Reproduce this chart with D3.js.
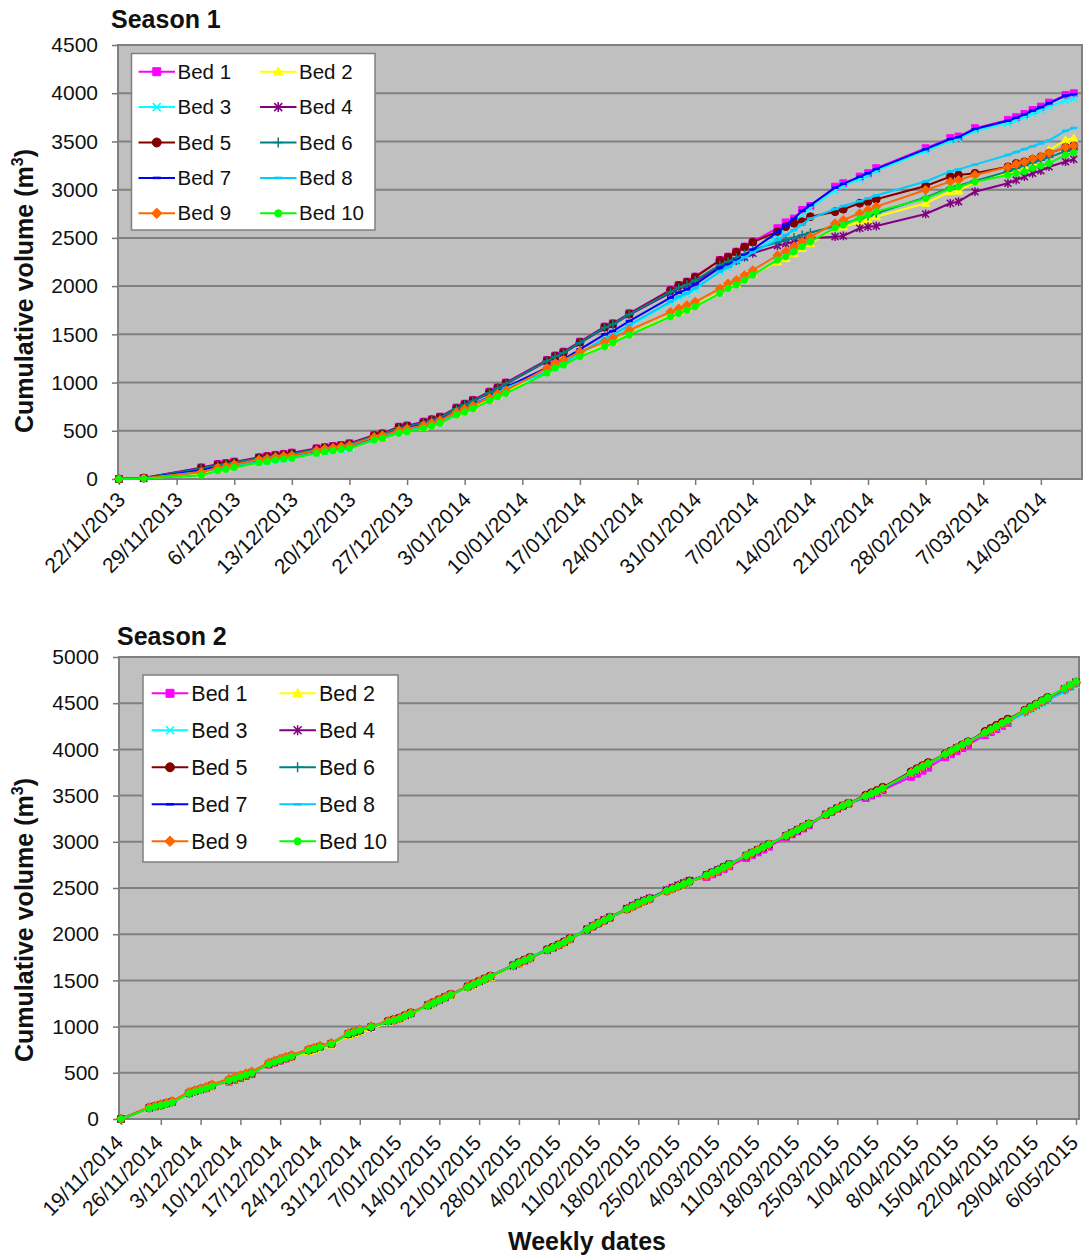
<!DOCTYPE html>
<html>
<head>
<meta charset="utf-8">
<script src="https://cdn.jsdelivr.net/npm/d3@7"></script>
<style>
  body { margin: 0; background: #ffffff; }
  svg text { font-family: "Liberation Sans", Arial, Helvetica, sans-serif; fill: #111; }
</style>
</head>
<body>
<svg id="chart" width="1084" height="1256"></svg>
<script>
// ---------- series definitions ----------
const bedNames   = ["Bed 1","Bed 2","Bed 3","Bed 4","Bed 5","Bed 6","Bed 7","Bed 8","Bed 9","Bed 10"];
const bedColors  = ["#FF00FF","#FFFF00","#00FFFF","#800080","#800000","#008080","#0000FF","#00CCFF","#FF6600","#00FF00"];
const bedMarkers = ["square","triangle","cross","star","circle","plus","dash","dash","diamond","dot"];

// ---------- Season 1 (cumulative volume, m3) ----------
const season1Dates = [
  "22/11/2013","25/11/2013","2/12/2013","4/12/2013","5/12/2013","6/12/2013",
  "9/12/2013","10/12/2013","11/12/2013","12/12/2013","13/12/2013",
  "16/12/2013","17/12/2013","18/12/2013","19/12/2013","20/12/2013",
  "23/12/2013","24/12/2013","26/12/2013","27/12/2013",
  "29/12/2013","30/12/2013","31/12/2013","2/1/2014","3/1/2014","4/1/2014",
  "6/1/2014","7/1/2014","8/1/2014","13/1/2014","14/1/2014","15/1/2014",
  "17/1/2014","20/1/2014","21/1/2014","23/1/2014",
  "28/1/2014","29/1/2014","30/1/2014","31/1/2014",
  "3/2/2014","4/2/2014","5/2/2014","6/2/2014","7/2/2014",
  "10/2/2014","11/2/2014","12/2/2014","13/2/2014","14/2/2014",
  "17/2/2014","18/2/2014","20/2/2014","21/2/2014","22/2/2014",
  "28/2/2014","3/3/2014","4/3/2014","6/3/2014",
  "10/3/2014","11/3/2014","12/3/2014","13/3/2014","14/3/2014","15/3/2014",
  "17/3/2014","18/3/2014"
];
const s1Bed1 = [0,10,120,155,165,180,225,238,250,260,273,318,330,342,352,370,456,474,542,555,594,619,646,740,780,820,905,950,1000,1234,1280,1320,1424,1580,1614,1718,1960,2012,2046,2098,2271,2305,2357,2409,2461,
  2600,2660,2700,2790,2830,3031,3066,3135,3170,3222,3429,3533,3550,3637,3723,3751,3785,3826,3861,3902,3982,3999];
const s1Bed2 = [0,5,50,96,110,130,180,190,207,217,225,276,293,303,318,328,414,432,484,500,536,560,588,674,705,740,820,863,898,1109,1161,1192,1278,1382,1423,1503,1693,1728,1762,1797,1935,1987,2022,2073,2125,
  2250,2285,2335,2390,2440,2603,2616,2668,2686,2720,2859,2979,2985,3083,3170,3204,3238,3290,3342,3411,3515,3533];
const s1Bed3 = [0,5,70,105,115,130,175,188,200,210,223,268,280,292,302,320,406,424,492,505,544,569,596,680,720,760,845,890,940,1104,1150,1190,1294,1450,1484,1588,1830,1882,1916,1968,2150,2190,2240,2290,2340,
  2520,2590,2660,2740,2810,2990,3040,3110,3150,3195,3400,3505,3525,3610,3690,3720,3755,3790,3825,3860,3925,3945];
const s1Bed4 = [0,8,105,140,150,165,210,223,235,245,258,303,315,327,337,355,441,459,527,540,579,604,631,725,765,805,890,935,985,1219,1265,1305,1409,1565,1599,1703,1930,1980,2010,2050,2200,2230,2265,2300,2340,
  2420,2440,2460,2480,2495,2513,2520,2600,2616,2623,2748,2859,2876,2979,3066,3100,3135,3170,3197,3238,3290,3315];
const s1Bed5 = [0,10,115,150,160,175,220,233,245,255,268,313,325,337,347,365,451,469,537,550,589,614,641,735,775,815,900,945,995,1229,1275,1315,1419,1575,1609,1713,1955,2007,2041,2093,2266,2300,2352,2404,2456,
  2565,2616,2651,2668,2720,2772,2797,2859,2876,2900,3038,3135,3152,3170,3238,3273,3290,3315,3342,3377,3439,3453];
const s1Bed6 = [0,10,110,145,155,170,215,228,240,250,263,308,320,332,342,360,446,464,532,545,584,609,636,730,770,810,895,940,990,1224,1270,1310,1414,1570,1604,1708,1940,1985,2015,2060,2220,2255,2295,2335,2375,
  2455,2480,2505,2530,2555,2620,2645,2700,2725,2755,2920,3020,3040,3090,3190,3220,3250,3280,3305,3335,3400,3415];
const s1Bed7 = [0,8,90,125,135,150,195,208,220,230,243,288,300,312,322,340,426,444,512,525,564,589,616,690,730,770,855,900,950,1154,1200,1240,1344,1500,1534,1638,1880,1932,1966,2018,2190,2225,2270,2320,2380,
  2560,2630,2700,2780,2840,3020,3060,3135,3170,3215,3420,3525,3545,3630,3715,3745,3780,3820,3855,3895,3975,3990];
const s1Bed8 = [0,5,75,110,120,135,180,193,205,215,228,273,285,297,307,325,411,429,497,510,549,574,601,685,725,765,850,895,945,1114,1160,1200,1304,1460,1494,1598,1840,1892,1926,1978,2150,2200,2250,2300,2350,
  2480,2530,2580,2640,2700,2800,2830,2880,2910,2940,3085,3190,3210,3260,3360,3390,3420,3450,3480,3510,3610,3640];
const s1Bed9 = [0,8,70,116,130,150,200,210,227,237,245,296,313,323,338,348,434,452,504,520,556,580,608,694,725,760,840,883,918,1149,1201,1232,1318,1422,1463,1543,1733,1768,1802,1837,1975,2027,2062,2113,2165,
  2320,2360,2410,2460,2510,2651,2686,2755,2790,2824,2997,3083,3100,3152,3235,3265,3290,3320,3345,3380,3440,3455];
const s1Bed10 = [0,5,40,86,100,120,170,180,197,207,215,266,283,293,308,318,404,422,474,490,526,550,578,664,695,730,810,853,888,1099,1151,1182,1268,1372,1413,1493,1683,1718,1752,1787,1925,1977,2012,2063,2115,
  2271,2305,2357,2409,2461,2603,2634,2703,2737,2772,2910,3014,3031,3083,3152,3170,3187,3222,3246,3273,3360,3384];

const season1TickLabels = ["22/11/2013","29/11/2013","6/12/2013","13/12/2013","20/12/2013","27/12/2013",
  "3/01/2014","10/01/2014","17/01/2014","24/01/2014","31/01/2014","7/02/2014","14/02/2014",
  "21/02/2014","28/02/2014","7/03/2014","14/03/2014"];
const season1YTicks = [0,500,1000,1500,2000,2500,3000,3500,4000,4500];

// ---------- Season 2 (cumulative volume, m3) ----------
const season2Dates = [
  "19/11/2014",
  "24/11/2014","25/11/2014","26/11/2014","27/11/2014","28/11/2014",
  "1/12/2014","2/12/2014","3/12/2014","4/12/2014","5/12/2014",
  "8/12/2014","9/12/2014","10/12/2014","11/12/2014","12/12/2014",
  "15/12/2014","16/12/2014","17/12/2014","18/12/2014","19/12/2014",
  "22/12/2014","23/12/2014","24/12/2014","26/12/2014",
  "29/12/2014","30/12/2014","31/12/2014","2/1/2015",
  "5/1/2015","6/1/2015","7/1/2015","8/1/2015","9/1/2015",
  "12/1/2015","13/1/2015","14/1/2015","15/1/2015","16/1/2015",
  "19/1/2015","20/1/2015","21/1/2015","22/1/2015","23/1/2015",
  "27/1/2015","28/1/2015","29/1/2015","30/1/2015",
  "2/2/2015","3/2/2015","4/2/2015","5/2/2015","6/2/2015",
  "9/2/2015","10/2/2015","11/2/2015","12/2/2015","13/2/2015",
  "16/2/2015","17/2/2015","18/2/2015","19/2/2015","20/2/2015",
  "23/2/2015","24/2/2015","25/2/2015","26/2/2015","27/2/2015",
  "2/3/2015","3/3/2015","4/3/2015","5/3/2015","6/3/2015",
  "9/3/2015","10/3/2015","11/3/2015","12/3/2015","13/3/2015",
  "16/3/2015","17/3/2015","18/3/2015","19/3/2015","20/3/2015",
  "23/3/2015","24/3/2015","25/3/2015","26/3/2015","27/3/2015",
  "30/3/2015","31/3/2015","1/4/2015","2/4/2015",
  "7/4/2015","8/4/2015","9/4/2015","10/4/2015",
  "13/4/2015","14/4/2015","15/4/2015","16/4/2015","17/4/2015",
  "20/4/2015","21/4/2015","22/4/2015","23/4/2015","24/4/2015",
  "27/4/2015","28/4/2015","29/4/2015","30/4/2015","1/5/2015",
  "4/5/2015","5/5/2015","6/5/2015"
];
const s2Bed1 = [0,
  120,135,150,167,184, 275,294,313,331,355, 405,425,445,466,485, 586,608,630,650,670,
  740,758,777,810, 910,930,950,985, 1050,1067,1085,1113,1140, 1230,1258,1288,1316,1345,
  1430,1458,1486,1515,1543, 1655,1685,1713,1740, 1830,1856,1883,1915,1950, 2050,2085,2118,2150,2180,
  2272,2303,2334,2360,2385, 2473,2499,2525,2550,2575, 2620,2648,2675,2705,2736, 2825,2855,2886,2917,2948,
  3050,3081,3113,3145,3179, 3295,3328,3362,3390,3416, 3475,3501,3527,3560, 3704,3737,3770,3803,
  3915,3948,3982,4015,4048, 4155,4188,4221,4255,4288, 4414,4448,4481,4517,4553, 4650,4687,4723];
const s2Bed2 = [0,
  115,130,145,162,179, 270,289,308,326,350, 410,430,450,471,490, 586,608,630,650,670,
  730,748,767,800, 905,925,945,980, 1045,1062,1080,1108,1135, 1225,1253,1283,1311,1340,
  1420,1448,1476,1505,1533, 1655,1685,1713,1740, 1830,1856,1883,1915,1950, 2050,2085,2118,2150,2180,
  2272,2303,2334,2360,2385, 2468,2494,2520,2545,2570, 2645,2673,2700,2730,2761, 2850,2880,2911,2942,2973,
  3065,3096,3128,3160,3194, 3295,3328,3362,3390,3416, 3490,3516,3542,3575, 3744,3777,3810,3843,
  3945,3978,4012,4045,4078, 4180,4213,4246,4280,4313, 4414,4448,4481,4517,4553, 4655,4692,4728];
const s2Bed3 = [0,
  120,135,150,167,184, 280,299,318,336,360, 420,440,460,481,500, 596,618,640,660,680,
  745,763,782,815, 925,945,965,1000, 1060,1077,1095,1123,1150, 1230,1258,1288,1316,1345,
  1435,1463,1491,1520,1548, 1670,1700,1728,1755, 1835,1861,1888,1920,1955, 2050,2085,2118,2150,2180,
  2272,2303,2334,2360,2385, 2468,2494,2520,2545,2570, 2640,2668,2695,2725,2756, 2850,2880,2911,2942,2973,
  3065,3096,3128,3160,3194, 3300,3333,3367,3395,3421, 3490,3516,3542,3575, 3744,3777,3810,3843,
  3945,3978,4012,4045,4078, 4170,4203,4236,4270,4303, 4394,4428,4461,4497,4533, 4630,4667,4703];
const s2Bed4 = [0,
  120,135,150,167,184, 280,299,318,336,360, 415,435,455,476,495, 596,618,640,660,680,
  745,763,782,815, 920,940,960,995, 1055,1072,1090,1118,1145, 1230,1258,1288,1316,1345,
  1430,1458,1486,1515,1543, 1660,1690,1718,1745, 1830,1856,1883,1915,1950, 2055,2090,2123,2155,2185,
  2277,2308,2339,2365,2390, 2478,2504,2530,2555,2580, 2640,2668,2695,2725,2756, 2850,2880,2911,2942,2973,
  3065,3096,3128,3160,3194, 3295,3328,3362,3390,3416, 3490,3516,3542,3575, 3744,3777,3810,3843,
  3945,3978,4012,4045,4078, 4180,4213,4246,4280,4313, 4414,4448,4481,4517,4553, 4655,4692,4728];
const s2Bed5 = [0,
  125,140,155,172,189, 285,304,323,341,365, 420,440,460,481,500, 596,618,640,660,680,
  745,763,782,815, 920,940,960,995, 1060,1077,1095,1123,1150, 1235,1263,1293,1321,1350,
  1435,1463,1491,1520,1548, 1665,1695,1723,1750, 1835,1861,1888,1920,1955, 2050,2085,2118,2150,2180,
  2272,2303,2334,2360,2385, 2468,2494,2520,2545,2570, 2640,2668,2695,2725,2756, 2850,2880,2911,2942,2973,
  3065,3096,3128,3160,3194, 3295,3328,3362,3390,3416, 3505,3531,3557,3590, 3759,3792,3825,3858,
  3950,3983,4017,4050,4083, 4195,4228,4261,4295,4328, 4424,4458,4491,4527,4563, 4650,4687,4723];
const s2Bed6 = [0,
  120,135,150,167,184, 280,299,318,336,360, 420,440,460,481,500, 596,618,640,660,680,
  745,763,782,815, 920,940,960,995, 1055,1072,1090,1118,1145, 1230,1258,1288,1316,1345,
  1430,1458,1486,1515,1543, 1660,1690,1718,1745, 1830,1856,1883,1915,1950, 2050,2085,2118,2150,2180,
  2267,2298,2329,2355,2380, 2468,2494,2520,2545,2570, 2640,2668,2695,2725,2756, 2850,2880,2911,2942,2973,
  3065,3096,3128,3160,3194, 3295,3328,3362,3390,3416, 3490,3516,3542,3575, 3744,3777,3810,3843,
  3945,3978,4012,4045,4078, 4175,4208,4241,4275,4308, 4404,4438,4471,4507,4543, 4645,4682,4718];
const s2Bed7 = [0,
  120,135,150,167,184, 280,299,318,336,360, 420,440,460,481,500, 596,618,640,660,680,
  745,763,782,815, 920,940,960,995, 1055,1072,1090,1118,1145, 1230,1258,1288,1316,1345,
  1430,1458,1486,1515,1543, 1660,1690,1718,1745, 1830,1856,1883,1915,1950, 2050,2085,2118,2150,2180,
  2272,2303,2334,2360,2385, 2468,2494,2520,2545,2570, 2640,2668,2695,2725,2756, 2850,2880,2911,2942,2973,
  3065,3096,3128,3160,3194, 3295,3328,3362,3390,3416, 3490,3516,3542,3575, 3744,3777,3810,3843,
  3945,3978,4012,4045,4078, 4175,4208,4241,4275,4308, 4404,4438,4471,4507,4543, 4635,4672,4708];
const s2Bed8 = [0,
  120,135,150,167,184, 280,299,318,336,360, 420,440,460,481,500, 596,618,640,660,680,
  745,763,782,815, 920,940,960,995, 1060,1077,1095,1123,1150, 1235,1263,1293,1321,1350,
  1435,1463,1491,1520,1548, 1670,1700,1728,1755, 1835,1861,1888,1920,1955, 2055,2090,2123,2155,2185,
  2272,2303,2334,2360,2385, 2468,2494,2520,2545,2570, 2640,2668,2695,2725,2756, 2850,2880,2911,2942,2973,
  3065,3096,3128,3160,3194, 3295,3328,3362,3390,3416, 3490,3516,3542,3575, 3744,3777,3810,3843,
  3940,3973,4007,4040,4073, 4170,4203,4236,4270,4303, 4394,4428,4461,4497,4533, 4625,4662,4698];
const s2Bed9 = [0,
  130,145,160,177,194, 295,314,333,351,375, 435,455,475,496,515, 611,633,655,675,695,
  755,773,792,825, 930,950,970,1005, 1060,1077,1095,1123,1150, 1235,1263,1293,1321,1350,
  1435,1463,1491,1520,1548, 1660,1690,1718,1745, 1830,1856,1883,1915,1950, 2050,2085,2118,2150,2180,
  2267,2298,2329,2355,2380, 2463,2489,2515,2540,2565, 2630,2658,2685,2715,2746, 2850,2880,2911,2942,2973,
  3065,3096,3128,3160,3194, 3295,3328,3362,3390,3416, 3495,3521,3547,3580, 3749,3782,3815,3848,
  3945,3978,4012,4045,4078, 4180,4213,4246,4280,4313, 4414,4448,4481,4517,4553, 4655,4692,4728];
const s2Bed10 = [0,
  115,130,145,162,179, 275,294,313,331,355, 415,435,455,476,495, 591,613,635,655,675,
  740,758,777,810, 920,940,960,995, 1050,1067,1085,1113,1140, 1225,1253,1283,1311,1340,
  1425,1453,1481,1510,1538, 1660,1690,1718,1745, 1830,1856,1883,1915,1950, 2050,2085,2118,2150,2180,
  2272,2303,2334,2360,2385, 2468,2494,2520,2545,2570, 2640,2668,2695,2725,2756, 2850,2880,2911,2942,2973,
  3065,3096,3128,3160,3194, 3295,3328,3362,3390,3416, 3495,3521,3547,3580, 3749,3782,3815,3848,
  3950,3983,4017,4050,4083, 4185,4218,4251,4285,4318, 4424,4458,4491,4527,4563, 4665,4702,4738];

const season2TickLabels = ["19/11/2014","26/11/2014","3/12/2014","10/12/2014","17/12/2014","24/12/2014",
  "31/12/2014","7/01/2015","14/01/2015","21/01/2015","28/01/2015","4/02/2015","11/02/2015",
  "18/02/2015","25/02/2015","4/03/2015","11/03/2015","18/03/2015","25/03/2015","1/04/2015",
  "8/04/2015","15/04/2015","22/04/2015","29/04/2015","6/05/2015"];
const season2YTicks = [0,500,1000,1500,2000,2500,3000,3500,4000,4500,5000];

// ---------- drawing ----------
const parseDate = d3.timeParse("%d/%m/%Y");
const svg = d3.select("#chart");

function markerSpec(type, r) {
  switch (type) {
    case "square":   return { d: `M${-r},${-r}H${r}V${r}H${-r}Z`, filled: true };
    case "triangle": return { d: `M0,${-r * 1.2}L${r * 1.2},${r * 0.85}L${-r * 1.2},${r * 0.85}Z`, filled: true };
    case "diamond":  return { d: `M0,${-r * 1.3}L${r * 1.3},0L0,${r * 1.3}L${-r * 1.3},0Z`, filled: true };
    case "circle":   return { d: d3.symbol(d3.symbolCircle, Math.PI * r * r * 1.25)(), filled: true };
    case "dot":      return { d: d3.symbol(d3.symbolCircle, Math.PI * r * r * 0.8)(), filled: true };
    case "cross":    return { d: `M${-r},${-r}L${r},${r}M${-r},${r}L${r},${-r}`, filled: false };
    case "star":     return { d: `M${-r},${-r}L${r},${r}M${-r},${r}L${r},${-r}M0,${-r * 1.25}V${r * 1.25}`, filled: false };
    case "plus":     return { d: `M${-r * 1.25},0H${r * 1.25}M0,${-r * 1.25}V${r * 1.25}`, filled: false };
    case "dash":     return { d: `M${-r},0H${r}`, filled: false, width: 2.5 };
  }
}

function applyMarker(sel, type, color, r) {
  const m = markerSpec(type, r);
  sel.attr("d", m.d)
    .attr("fill", m.filled ? color : "none")
    .attr("stroke", color)
    .attr("stroke-width", m.width || (m.filled ? 1 : 1.5));
}

function drawPanel(p) {
  const g = svg.append("g");
  const dates = p.dates.map(parseDate);
  const tickDates = p.tickLabels.map(parseDate);

  const x = d3.scaleTime().domain(p.xDomain.map(parseDate)).range(p.xRange);
  const y = d3.scaleLinear().domain([0, p.yMax]).range([p.bottom, p.top]);

  // plot area
  g.append("rect")
    .attr("x", p.left).attr("y", p.top)
    .attr("width", p.right - p.left).attr("height", p.bottom - p.top)
    .attr("fill", "#C0C0C0");

  // horizontal gridlines
  g.append("g").selectAll("line").data(p.yTicks).join("line")
    .attr("x1", p.left).attr("x2", p.right)
    .attr("y1", d => y(d)).attr("y2", d => y(d))
    .attr("stroke", "#808080").attr("stroke-width", 2);

  // plot border
  g.append("rect")
    .attr("x", p.left).attr("y", p.top)
    .attr("width", p.right - p.left).attr("height", p.bottom - p.top)
    .attr("fill", "none").attr("stroke", "#808080").attr("stroke-width", 2);

  // y axis
  g.append("g")
    .attr("transform", `translate(${p.left},0)`)
    .call(d3.axisLeft(y).tickValues(p.yTicks).tickFormat(d3.format("d")).tickSize(6).tickPadding(14))
    .call(a => a.select(".domain").remove())
    .call(a => a.selectAll(".tick line").attr("stroke", "#777").attr("stroke-width", 1.5))
    .call(a => a.selectAll(".tick text").attr("font-size", 21).attr("fill", "#111"));

  // x axis with slanted date labels
  g.append("g")
    .attr("transform", `translate(0,${p.bottom})`)
    .call(d3.axisBottom(x).tickValues(tickDates).tickFormat((d, i) => p.tickLabels[i]).tickSize(6))
    .call(a => a.select(".domain").remove())
    .call(a => a.selectAll(".tick line").attr("stroke", "#777").attr("stroke-width", 1.5))
    .call(a => a.selectAll(".tick text")
      .attr("font-size", p.xFont).attr("fill", "#111")
      .attr("x", 0).attr("y", 0).attr("dy", 0)
      .attr("text-anchor", "end")
      .attr("transform", `translate(${p.labelDx},${p.labelDy}) rotate(-45)`));

  // series: line then markers, Bed 1 first so Bed 10 ends on top
  const line = d3.line().x(d => x(d.date)).y(d => y(d.v));
  p.series.forEach((vals, i) => {
    const pts = vals.map((v, k) => ({ date: dates[k], v }));
    const sg = g.append("g");
    sg.append("path").datum(pts)
      .attr("d", line).attr("fill", "none")
      .attr("stroke", bedColors[i]).attr("stroke-width", 2).attr("stroke-linejoin", "round");
    sg.selectAll("path.mk").data(pts).join("path").attr("class", "mk")
      .attr("transform", d => `translate(${x(d.date)},${y(d.v)})`)
      .call(sel => applyMarker(sel, bedMarkers[i], bedColors[i], 3.5));
  });

  // legend
  const L = p.legend;
  const lg = g.append("g");
  lg.append("rect").attr("x", L.x).attr("y", L.y).attr("width", L.w).attr("height", L.h)
    .attr("fill", "#ffffff").attr("stroke", "#808080").attr("stroke-width", 1.5);
  bedNames.forEach((name, i) => {
    const col = i % 2, row = Math.floor(i / 2);
    const cx = L.cols[col];
    const cy = L.row0 + row * L.rowStep;
    lg.append("line").attr("x1", cx).attr("x2", cx + L.lineLen).attr("y1", cy).attr("y2", cy)
      .attr("stroke", bedColors[i]).attr("stroke-width", 2);
    lg.append("path").attr("transform", `translate(${cx + L.lineLen / 2},${cy})`)
      .call(sel => applyMarker(sel, bedMarkers[i], bedColors[i], 4));
    lg.append("text").attr("x", cx + L.lineLen + L.gap).attr("y", cy).attr("dy", "0.35em")
      .attr("font-size", L.font).text(name);
  });

  // titles
  g.append("text").attr("x", p.titleX).attr("y", p.titleY)
    .attr("font-size", 25).attr("font-weight", "bold").text(p.title);

  const yt = g.append("text")
    .attr("transform", `translate(${p.yTitleX},${p.yTitleY}) rotate(-90)`)
    .attr("text-anchor", "middle").attr("font-size", 25).attr("font-weight", "bold");
  yt.append("tspan").text("Cumulative volume (m");
  yt.append("tspan").attr("font-size", 16).attr("dy", -10).text("3");
  yt.append("tspan").attr("dy", 10).text(")");
}

drawPanel({
  title: "Season 1", titleX: 111, titleY: 28,
  dates: season1Dates,
  series: [s1Bed1, s1Bed2, s1Bed3, s1Bed4, s1Bed5, s1Bed6, s1Bed7, s1Bed8, s1Bed9, s1Bed10],
  tickLabels: season1TickLabels, yTicks: season1YTicks, yMax: 4500,
  xDomain: ["22/11/2013", "19/03/2014"], xRange: [119, 1082],
  left: 118, right: 1082, top: 45, bottom: 479,
  xFont: 21, labelDx: 7, labelDy: 22,
  yTitleX: 33, yTitleY: 291,
  legend: { x: 131.5, y: 53.5, w: 243.5, h: 176.5, row0: 71.7, rowStep: 35.4,
            cols: [138.5, 260], lineLen: 36.5, gap: 2.5, font: 20.5 }
});

drawPanel({
  title: "Season 2", titleX: 117, titleY: 645,
  dates: season2Dates,
  series: [s2Bed1, s2Bed2, s2Bed3, s2Bed4, s2Bed5, s2Bed6, s2Bed7, s2Bed8, s2Bed9, s2Bed10],
  tickLabels: season2TickLabels, yTicks: season2YTicks, yMax: 5000,
  xDomain: ["19/11/2014", "6/05/2015"], xRange: [121, 1076],
  left: 119, right: 1079, top: 657, bottom: 1119,
  xFont: 21, labelDx: 3, labelDy: 25,
  yTitleX: 33, yTitleY: 920,
  legend: { x: 143, y: 675, w: 255, h: 187, row0: 693.3, rowStep: 37,
            cols: [151.7, 279.3], lineLen: 36.6, gap: 3, font: 21.5 }
});

svg.append("text").attr("x", 587).attr("y", 1250).attr("text-anchor", "middle")
  .attr("font-size", 25).attr("font-weight", "bold").text("Weekly dates");
</script>
</body>
</html>
